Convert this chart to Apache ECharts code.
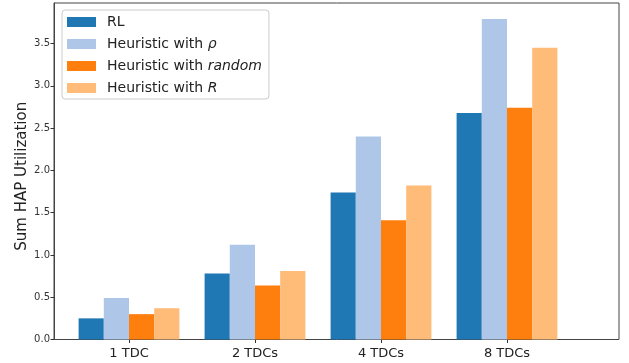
<!DOCTYPE html>
<html>
<head>
<meta charset="utf-8">
<script src="https://cdn.jsdelivr.net/npm/echarts@6/dist/echarts.min.js"></script>
<style>
  html, body { margin: 0; padding: 0; background: #fff; }
  #chart { width: 629px; height: 363px; }
</style>
</head>
<body>
<div id="chart"></div>
<script>
// Sum of HAP utilization per number of TDCs, one bar per method
const categories = ['1 TDC', '2 TDCs', '4 TDCs', '8 TDCs'];
const seriesNames = ['RL', 'Heuristic with ρ', 'Heuristic with random', 'Heuristic with R'];
const rlValues = [0.25, 0.78, 1.74, 2.68];
const rhoValues = [0.49, 1.12, 2.40, 3.79];
const randomValues = [0.30, 0.64, 1.41, 2.74];
const rValues = [0.37, 0.81, 1.82, 3.45];
const yTicks = [0, 0.5, 1.0, 1.5, 2.0, 2.5, 3.0, 3.5];
const yMax = 3.98;

const colors = ['#1f77b4', '#aec7e8', '#ff7f0e', '#ffbb78'];
const seriesValues = [rlValues, rhoValues, randomValues, rValues];

const font = 'DejaVu Sans';
const chart = echarts.init(document.getElementById('chart'), null, { renderer: 'canvas' });

chart.setOption({
  animation: false,
  backgroundColor: '#fff',
  textStyle: { fontFamily: font },
  grid: [
    // grid 0: bars
    { left: 66, width: 504, top: 3, bottom: 23.5, containLabel: false },
    // grid 1: full frame with the value axis
    { left: 54, right: 10, top: 3, bottom: 23.5, containLabel: false,
      show: true, borderColor: '#444', borderWidth: 1, backgroundColor: 'transparent' }
  ],
  xAxis: [
    {
      type: 'category', gridIndex: 0, data: categories,
      axisLine: { show: false },
      axisTick: { show: true, alignWithLabel: true, length: 3.5, lineStyle: { color: '#333', width: 1 } },
      axisLabel: { fontSize: 13, color: '#222', margin: 8, fontFamily: font }
    },
    { type: 'value', gridIndex: 1, min: 0, max: 1, show: false }
  ],
  yAxis: [
    { type: 'value', gridIndex: 0, min: 0, max: yMax, show: false },
    {
      type: 'value', gridIndex: 1, min: 0, max: yMax, interval: 0.5,
      name: 'Sum HAP Utilization', nameLocation: 'middle', nameGap: 24,
      nameMoveOverlap: false,
      nameTextStyle: { fontSize: 15, color: '#222', fontFamily: font, padding: [0, 10, 0, 0] },
      axisLine: { show: true, lineStyle: { color: '#444', width: 1 } },
      axisTick: { show: true, length: 3.5, customValues: yTicks, lineStyle: { color: '#333', width: 1 } },
      axisLabel: { fontSize: 10, color: '#333', margin: 4, customValues: yTicks,
        formatter: v => v.toFixed(1), fontFamily: font },
      splitLine: { show: false }
    }
  ],
  legend: {
    orient: 'vertical', left: 62, top: 10,
    padding: [5, 7, 4, 5],
    backgroundColor: '#fff', borderColor: '#ccc', borderWidth: 1, borderRadius: 3,
    itemWidth: 29, itemHeight: 10, itemGap: 8,
    icon: 'rect',
    data: seriesNames,
    formatter: name => name.replace(/with (.+)$/, 'with {i|$1}'),
    textStyle: {
      fontSize: 14, color: '#222', fontFamily: font, padding: [0, 0, 0, 6], lineHeight: 14,
      rich: { i: { fontSize: 14, fontStyle: 'italic', color: '#222', fontFamily: font, lineHeight: 14 } }
    }
  },
  series: seriesNames.map((name, k) => ({
    name, type: 'bar', xAxisIndex: 0, yAxisIndex: 0,
    data: seriesValues[k],
    barWidth: 25.2, barGap: '0%',
    itemStyle: { color: colors[k] }
  }))
});
</script>
</body>
</html>
